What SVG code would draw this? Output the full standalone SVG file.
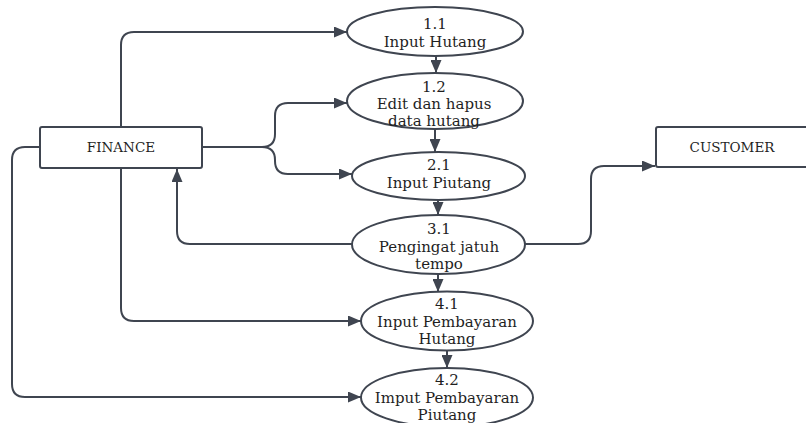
<svg xmlns="http://www.w3.org/2000/svg" width="806" height="423" viewBox="0 0 806 423">
<style>
.box{fill:#fff;stroke:#3f4550;stroke-width:2}
.proc{fill:#fff;stroke:#3f4550;stroke-width:2}
.edge{fill:none;stroke:#3f4550;stroke-width:2}
text{font-family:"DejaVu Serif","Liberation Serif",serif;font-size:15px;fill:#1f1f1f;text-anchor:middle}
text.ent{font-size:13.5px}
</style>
<defs>
<marker id="arr" markerUnits="userSpaceOnUse" markerWidth="13" markerHeight="11" refX="13" refY="5.5" orient="auto">
<path d="M0,0 L13,5.5 L0,11 z" fill="#3f4550"/>
</marker>
</defs>
<g id="connectors">
<path class="edge" d="M121,127 L121,45 Q121,32 134,32 L347,32" marker-end="url(#arr)"/>
<path class="edge" d="M202,147 L262,147 Q275,147 275,134 L275,116 Q275,103 288,103 L347,103" marker-end="url(#arr)"/>
<path class="edge" d="M262,147 Q275,147 275,160 L275,161 Q275,174 288,174 L352,174" marker-end="url(#arr)"/>
<path class="edge" d="M352,244 L190,244 Q177,244 177,231 L177,169" marker-end="url(#arr)"/>
<path class="edge" d="M121,168 L121,308 Q121,321 134,321 L361,321" marker-end="url(#arr)"/>
<path class="edge" d="M40,147 L25,147 Q12,147 12,160 L12,384 Q12,397 25,397 L361,397" marker-end="url(#arr)"/>
<path class="edge" d="M525,244 L578,244 Q591,244 591,231 L591,179 Q591,166 604,166 L655,166" marker-end="url(#arr)"/>
<path class="edge" d="M436,56 L436,73" marker-end="url(#arr)"/>
<path class="edge" d="M435,129 L435,152" marker-end="url(#arr)"/>
<path class="edge" d="M438,200 L438,215" marker-end="url(#arr)"/>
<path class="edge" d="M438,274 L438,292" marker-end="url(#arr)"/>
<path class="edge" d="M447,351 L447,368" marker-end="url(#arr)"/>
</g>
<g id="finance">
<rect class="box" x="40" y="127" width="162" height="41" rx="2"/>
<text class="ent" x="121" y="152">FINANCE</text>
</g>
<g id="customer">
<rect class="box" x="656" y="127" width="160" height="40" rx="2"/>
<text class="ent" x="732" y="152">CUSTOMER</text>
</g>
<g id="p11">
<ellipse class="proc" cx="435" cy="31.5" rx="88" ry="24.5"/>
<text x="435" y="29">1.1</text>
<text x="435" y="47">Input Hutang</text>
</g>
<g id="p12">
<ellipse class="proc" cx="435" cy="101" rx="88" ry="28"/>
<text x="434" y="92">1.2</text>
<text x="434" y="109">Edit dan hapus</text>
<text x="434" y="126">data hutang</text>
</g>
<g id="p21">
<ellipse class="proc" cx="438.5" cy="176" rx="86.5" ry="24"/>
<text x="439" y="170">2.1</text>
<text x="439" y="188">Input Piutang</text>
</g>
<g id="p31">
<ellipse class="proc" cx="438.5" cy="244.5" rx="86.5" ry="29.5"/>
<text x="439" y="234">3.1</text>
<text x="439" y="252">Pengingat jatuh</text>
<text x="439" y="269">tempo</text>
</g>
<g id="p41">
<ellipse class="proc" cx="447" cy="321" rx="86" ry="29.5"/>
<text x="447" y="309">4.1</text>
<text x="447" y="327">Input Pembayaran</text>
<text x="447" y="344">Hutang</text>
</g>
<g id="p42">
<ellipse class="proc" cx="447" cy="397.5" rx="86" ry="29.5"/>
<text x="447" y="385">4.2</text>
<text x="447" y="403">Imput Pembayaran</text>
<text x="447" y="420">Piutang</text>
</g>
</svg>
